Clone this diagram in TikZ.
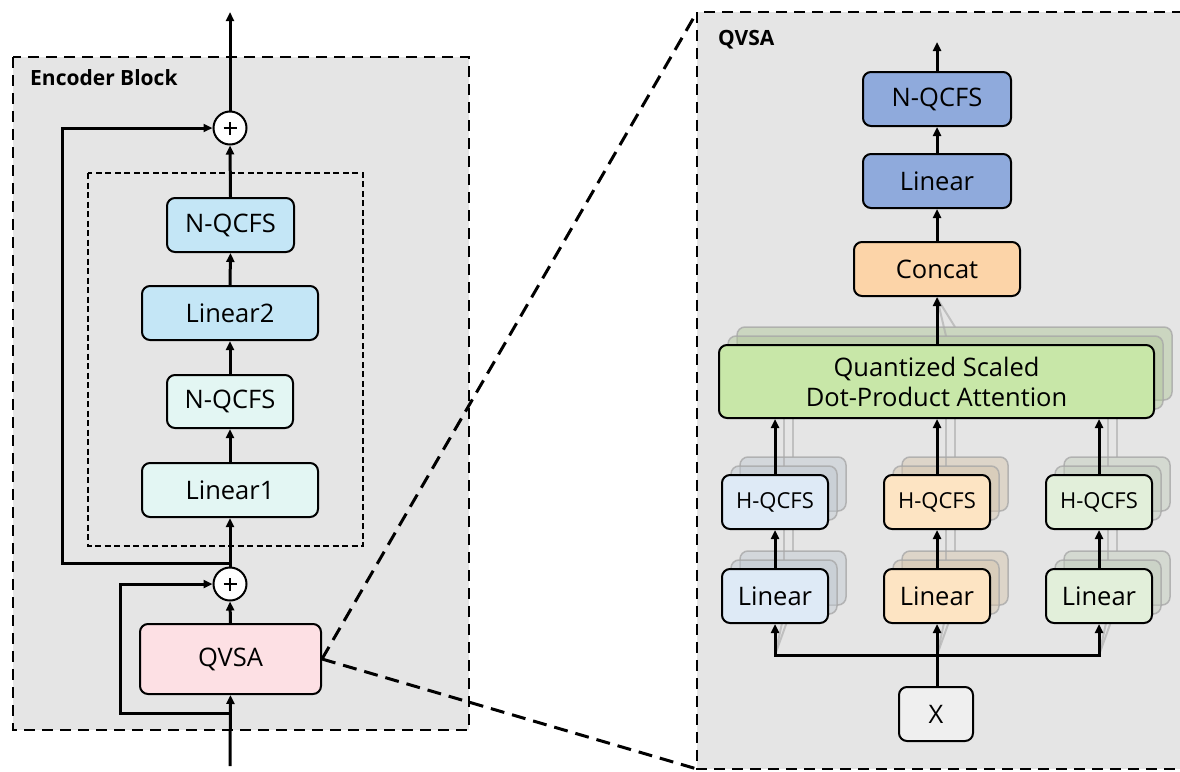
\documentclass[tikz,border=0pt]{standalone}
\usepackage{fontspec}
\setmainfont{Open Sans}
\usetikzlibrary{arrows.meta}

\definecolor{panelbg}{HTML}{E5E5E5}
\definecolor{ffnblue}{HTML}{C4E6F6}
\definecolor{ffncyan}{HTML}{E3F6F3}
\definecolor{attnpink}{HTML}{FDE0E4}
\definecolor{outblue}{HTML}{8FAADC}
\definecolor{catpeach}{HTML}{FCD4A8}
\definecolor{sdpgreen}{HTML}{C8E7A8}
\definecolor{qblue}{HTML}{DEEAF6}
\definecolor{korange}{HTML}{FDE4C3}
\definecolor{vgreen}{HTML}{E2EFDA}
\definecolor{xgrey}{HTML}{EFEFEF}
\definecolor{ghostedge}{HTML}{A8A8A8}

\tikzset{
  blk/.style={draw=black, line width=2pt, rounded corners=8pt, inner sep=0pt,
    align=center, font=\fontsize{25.5}{30}\selectfont},
  smallblk/.style={blk, font=\fontsize{22}{26}\selectfont},
  ghost/.style={draw=ghostedge, line width=1.5pt, rounded corners=8pt, inner sep=0pt,
    fill opacity=0.5, draw opacity=0.8},
  ghostline/.style={draw=ghostedge, line width=2pt, draw opacity=0.6},
  arr/.style={line width=3pt, -{Triangle[length=9pt,width=8pt]}},
  link/.style={line width=3pt},
  adder/.style={circle, draw=black, line width=2pt, fill=white, minimum size=33pt,
    inner sep=0pt,
    path picture={
      \draw[line width=2pt] ([xshift=-6.5pt]path picture bounding box.center)
        -- ([xshift=6.5pt]path picture bounding box.center);
      \draw[line width=2pt] ([yshift=-6.5pt]path picture bounding box.center)
        -- ([yshift=6.5pt]path picture bounding box.center);
    }},
  panel/.style={fill=panelbg, draw=black, line width=2.4pt, dash pattern=on 11pt off 7pt},
  inner/.style={draw=black, line width=1.8pt, dash pattern=on 6pt off 3.5pt},
  zoomline/.style={draw=black, line width=3pt, dash pattern=on 14pt off 8pt},
  title/.style={anchor=west, inner sep=0pt, font=\bfseries\fontsize{21}{24}\selectfont},
}

\begin{document}
\begin{tikzpicture}[x=1pt, y=-1pt]
\useasboundingbox (0,0) rectangle (1180,771);

% ---------------- encoder block ----------------
\draw[panel] (13,57) rectangle (469,730);
\node[title] (enctitle) at (30,78) {Encoder Block};
\draw[inner] (88,173) rectangle (363,546);

\node[blk, fill=ffnblue, minimum width=127pt, minimum height=54pt] (nqtop) at (230.5,225) {N-QCFS};
\node[blk, fill=ffnblue, minimum width=176pt, minimum height=54pt] (lin2) at (230,313) {Linear2};
\node[blk, fill=ffncyan, minimum width=126pt, minimum height=53pt] (nqbot) at (230,401.5) {N-QCFS};
\node[blk, fill=ffncyan, minimum width=176pt, minimum height=54pt] (lin1) at (230,490) {Linear1};
\node[blk, fill=attnpink, minimum width=181pt, minimum height=70pt] (qvsa) at (230.5,659) {QVSA};

\node[adder] (add1) at (230,128) {};
\node[adder] (add2) at (230,584) {};

\coordinate (encin) at (230,766);
\coordinate (encout) at (230,12);
\coordinate (tapa) at (230,713);
\coordinate (tapb) at (230,563);

\draw[arr] (encin) -- (qvsa.south);
\draw[arr] (qvsa.north) -- (add2.south);
\draw[arr] (add2.north) -- (lin1.south);
\draw[arr] (lin1.north) -- (nqbot.south);
\draw[arr] (nqbot.north) -- (lin2.south);
\draw[arr] (lin2.north) -- (nqtop.south);
\draw[arr] (nqtop.north) -- (add1.south);
\draw[arr] (add1.north) -- (encout);
\draw[arr] (tapa) -- (120,713) -- (120,584) -- (add2.west);
\draw[arr] (tapb) -- (62,563) -- (62,128) -- (add1.west);

% ---------------- QVSA detail ----------------
\draw[panel] (697,12) rectangle (1200,769);
\node[title] (qvsatitle) at (718,40) {QVSA};

% stacked heads behind the front layer
\foreach \dx/\dy in {18/-18, 9/-9} {
  \node[ghost, fill=sdpgreen!70!gray, minimum width=435pt, minimum height=73pt] at (936.5+\dx,381.5+\dy) {};
  \node[ghost, fill=qblue!70!gray, minimum width=106pt, minimum height=54pt] at (775+\dx,502+\dy) {};
  \node[ghost, fill=korange!70!gray, minimum width=106pt, minimum height=54pt] at (937+\dx,502+\dy) {};
  \node[ghost, fill=vgreen!70!gray, minimum width=106pt, minimum height=54pt] at (1099+\dx,502+\dy) {};
  \node[ghost, fill=qblue!70!gray, minimum width=106pt, minimum height=54pt] at (775+\dx,596+\dy) {};
  \node[ghost, fill=korange!70!gray, minimum width=106pt, minimum height=54pt] at (937+\dx,596+\dy) {};
  \node[ghost, fill=vgreen!70!gray, minimum width=106pt, minimum height=54pt] at (1099+\dx,596+\dy) {};
  \foreach \cx in {775,937,1099} {
    \draw[ghostline] (\cx+\dx,475+\dy) -- (\cx+\dx,418+\dy);
    \draw[ghostline] (\cx+\dx,569+\dy) -- (\cx+\dx,529+\dy);
    \draw[ghostline] (\cx,655) -- (\cx+\dx,623+\dy);
  }
  \draw[ghostline] (937,298) -- (937+\dx,345+\dy);
}

\node[blk, fill=outblue, minimum width=148pt, minimum height=54pt] (rnq) at (937,99) {N-QCFS};
\node[blk, fill=outblue, minimum width=148pt, minimum height=54pt] (rlin) at (937,181) {Linear};
\node[blk, fill=catpeach, minimum width=166pt, minimum height=54pt] (concat) at (937,269) {Concat};
\node[blk, fill=sdpgreen, minimum width=435pt, minimum height=73pt] (sdpa) at (936.5,381.5)
  {Quantized Scaled\\Dot-Product Attention};

\node[smallblk, fill=qblue, minimum width=106pt, minimum height=54pt] (hq) at (775,502) {H-QCFS};
\node[smallblk, fill=korange, minimum width=106pt, minimum height=54pt] (hk) at (937,502) {H-QCFS};
\node[smallblk, fill=vgreen, minimum width=106pt, minimum height=54pt] (hv) at (1099,502) {H-QCFS};
\node[blk, fill=qblue, minimum width=106pt, minimum height=54pt] (lq) at (775,596) {Linear};
\node[blk, fill=korange, minimum width=106pt, minimum height=54pt] (lk) at (937,596) {Linear};
\node[blk, fill=vgreen, minimum width=106pt, minimum height=54pt] (lv) at (1099,596) {Linear};
\node[blk, fill=xgrey, minimum width=74pt, minimum height=54pt] (xin) at (936,714) {X};

\coordinate (qvsaout) at (937,42);
\coordinate (split) at (937,655);

\draw[arr] (rnq.north) -- (qvsaout);
\draw[arr] (rlin.north) -- (rnq.south);
\draw[arr] (concat.north) -- (rlin.south);
\draw[arr] (sdpa.north -| concat.south) -- (concat.south);
\draw[arr] (hq.north) -- (hq.north |- sdpa.south);
\draw[arr] (hk.north) -- (hk.north |- sdpa.south);
\draw[arr] (hv.north) -- (hv.north |- sdpa.south);
\draw[arr] (lq.north) -- (hq.south);
\draw[arr] (lk.north) -- (hk.south);
\draw[arr] (lv.north) -- (hv.south);
\draw[link] (xin.north -| split) -- (split);
\draw[arr] (split) -- (lk.south);
\draw[arr] (split) -- (lq.south |- split) -- (lq.south);
\draw[arr] (split) -- (lv.south |- split) -- (lv.south);

% ---------------- zoom guides ----------------
\coordinate (zoomtop) at (697,12);
\coordinate (zoombot) at (697,769);
\draw[zoomline] (qvsa.east) -- (zoomtop);
\draw[zoomline] (qvsa.east) -- (zoombot);
\end{tikzpicture}
\end{document}
